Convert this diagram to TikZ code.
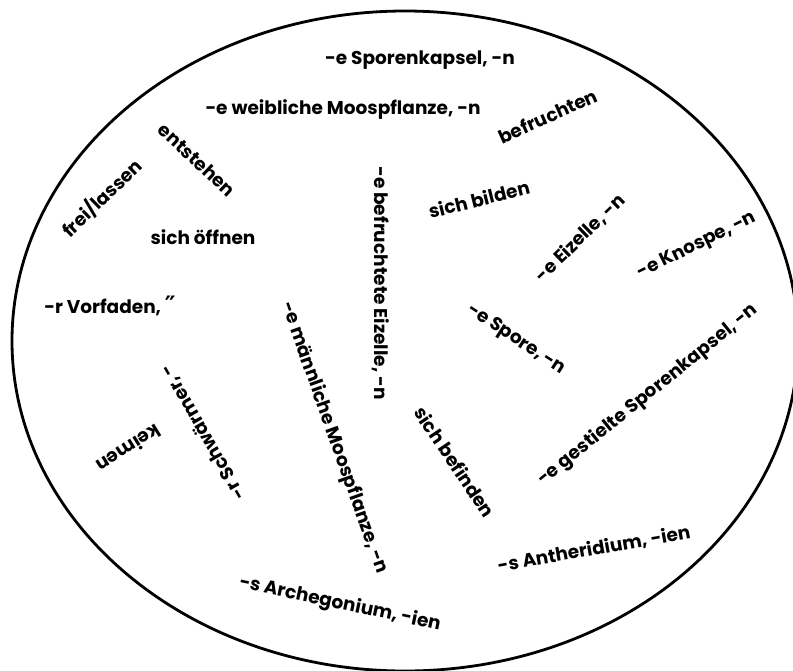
\documentclass[tikz,border=0pt]{standalone}
\usepackage{fontspec}
\setmainfont{Poppins}
\newfontfamily\symfont{DejaVu Sans}
\begin{document}
\begin{tikzpicture}[x=1pt,y=-1pt,
  word/.style={font=\fontsize{18.5}{20}\selectfont\bfseries, inner sep=0pt, anchor=center},
  rim/.style={line width=2.8pt}]
\useasboundingbox (0,0) rectangle (793,670);
\draw[rim] (405,341) ellipse [x radius=393, y radius=330];
\node[word] (spk) at (420,60) {-e Sporenkapsel, -n};
\node[word] (wmp) at (343,110) {-e weibliche Moospflanze, -n};
\node[word,rotate=24] (befr) at (548,116) {befruchten};
\node[word,rotate=-43] (ents) at (197,160) {entstehen};
\node[word,rotate=44] (frei) at (102,198) {frei/lassen};
\node[word] (oeff) at (203,237) {sich öffnen};
\node[word] (vorf) at (110,306) {-r Vorfaden, {\symfont\bfseries\fontsize{24}{24}\selectfont ″}};
\node[word,rotate=-90] (bef) at (381,283) {-e befruchtete Eizelle, -n};
\node[word,rotate=-70.5] (mmp) at (334,438) {-e männliche Moospflanze, -n};
\node[word,rotate=14] (bild) at (479,199) {sich bilden};
\node[word,rotate=44] (eiz) at (580,238) {-e Eizelle, -n};
\node[word,rotate=26] (knos) at (697,246) {-e Knospe, -n};
\node[word,rotate=-33] (spor) at (516,340) {-e Spore, -n};
\node[word,rotate=39] (gest) at (648,395) {-e gestielte Sporenkapsel, -n};
\node[word,rotate=-56] (befi) at (455,462) {sich befinden};
\node[word,rotate=10] (anth) at (594,549) {-s Antheridium, -ien};
\node[word,rotate=-12] (arch) at (340,604) {-s Archegonium, -ien};
\node[word,rotate=120] (schw) at (203,432) {-r Schwärmer, -};
\node[word,rotate=212] (keim) at (129,449) {keimen};
\end{tikzpicture}
\end{document}
